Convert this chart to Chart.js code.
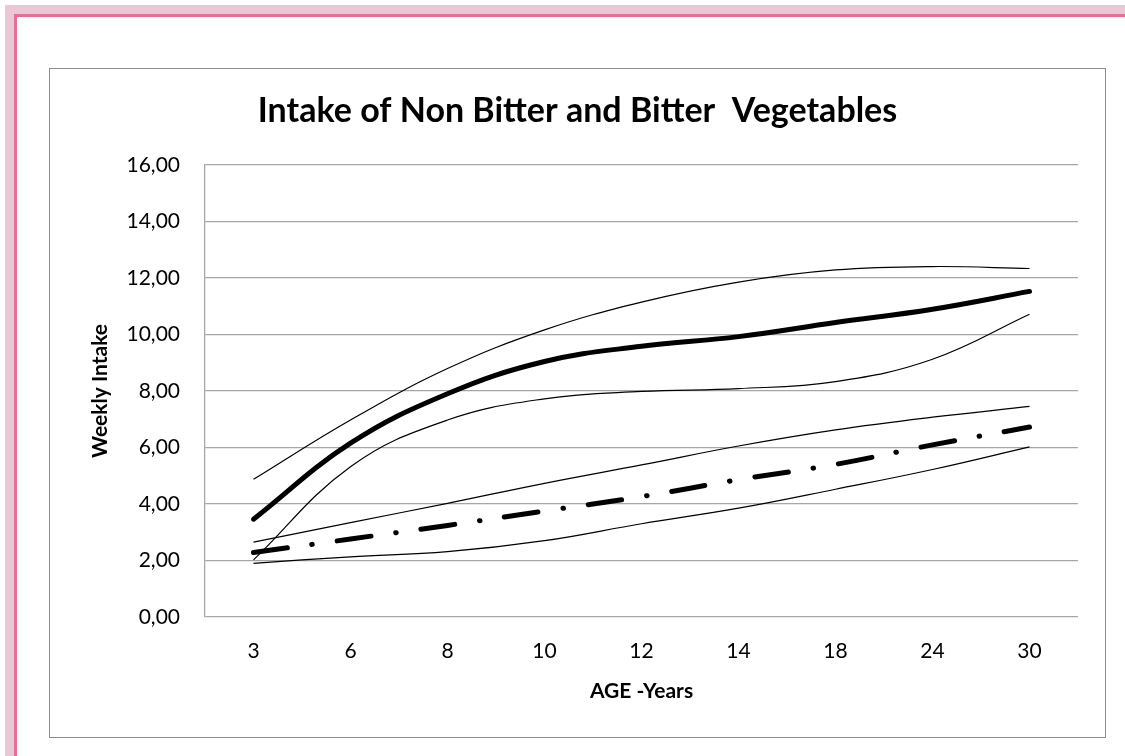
<!DOCTYPE html>
<html>
<head>
    <title>Intake of Non Bitter and Bitter Vegetables</title>
    <script src="https://cdn.jsdelivr.net/npm/chart.js"></script>
    <style>
        body {
            margin: 0;
            width: 1125px;
            height: 756px;
            background: #fff;
            position: relative;
            overflow: hidden;
        }
        .frame-light {
            position: absolute;
            left: 5px; top: 5px; right: 0; bottom: 0;
            border-left: 9px solid #ecc6d4;
            border-top: 9px solid #ecc6d4;
        }
        .frame-dark {
            position: absolute;
            left: 14px; top: 14px; right: 0; bottom: 0;
            border-left: 3px solid #e5708f;
            border-top: 3px solid #e5708f;
        }
        .chart-box {
            position: absolute;
            left: 49px; top: 68px;
            width: 1055px; height: 668px;
            border: 1px solid #8c8c8c;
            background: #fff;
        }
        .chart-box canvas {
            display: block;
        }
    </style>
</head>
<body>
<div class="frame-light"></div>
<div class="frame-dark"></div>
<div class="chart-box">
    <canvas id="intake-chart" width="1055" height="668"></canvas>
</div>
<script>
    // Ages on the x axis
    const ageLabels = ['3', '6', '8', '10', '12', '14', '18', '24', '30'];

    // Non bitter vegetables: upper, mean, lower
    const nonBitterUpper = [4.87, 6.97, 8.79, 10.16, 11.14, 11.85, 12.28, 12.40, 12.33];
    const nonBitterMean  = [3.46, 6.15, 7.90, 9.04, 9.58, 9.92, 10.42, 10.89, 11.52];
    const nonBitterLower = [2.02, 5.32, 6.97, 7.72, 7.98, 8.08, 8.33, 9.12, 10.71];

    // Bitter vegetables: upper, mean, lower
    const bitterUpper = [2.65, 3.34, 4.02, 4.73, 5.38, 6.05, 6.62, 7.07, 7.45];
    const bitterMean  = [2.28, 2.76, 3.24, 3.75, 4.26, 4.86, 5.40, 6.09, 6.72];
    const bitterLower = [1.90, 2.13, 2.31, 2.70, 3.30, 3.85, 4.52, 5.22, 6.02];

    const yTicks = [0, 2, 4, 6, 8, 10, 12, 14, 16];

    function thinLine(data) {
        return {
            data: data,
            borderColor: '#000',
            borderWidth: 1.2,
            pointRadius: 0,
            fill: false,
            tension: 0.4
        };
    }

    const ctx = document.getElementById('intake-chart').getContext('2d');

    new Chart(ctx, {
        type: 'line',
        data: {
            labels: ageLabels,
            datasets: [
                thinLine(nonBitterUpper),
                {
                    data: nonBitterMean,
                    borderColor: '#000',
                    borderWidth: 5,
                    borderCapStyle: 'round',
                    pointRadius: 0,
                    fill: false,
                    tension: 0.4
                },
                thinLine(nonBitterLower),
                thinLine(bitterUpper),
                {
                    data: bitterMean,
                    borderColor: '#000',
                    borderWidth: 5,
                    borderCapStyle: 'round',
                    borderDash: [34, 25, 0.5, 25],
                    pointRadius: 0,
                    fill: false,
                    tension: 0.4
                },
                thinLine(bitterLower)
            ]
        },
        options: {
            responsive: false,
            animation: false,
            devicePixelRatio: 1,
            layout: {
                // equal side padding keeps the title centred in the box
                padding: { left: 27, right: 27, top: 0, bottom: 0 }
            },
            plugins: {
                legend: { display: false },
                tooltip: { enabled: false },
                title: {
                    display: true,
                    text: 'Intake of Non Bitter and Bitter  Vegetables',
                    color: '#000',
                    font: { family: 'Lato', size: 34, weight: 'bold' },
                    padding: { top: 22, bottom: 33 }
                }
            },
            scales: {
                x: {
                    offset: true,
                    grid: { display: false },
                    border: { display: false },
                    ticks: {
                        color: '#000',
                        padding: 14,
                        font: { family: 'Lato', size: 21 }
                    },
                    title: {
                        display: true,
                        text: 'AGE -Years',
                        color: '#000',
                        font: { family: 'Lato', size: 21, weight: 'bold' },
                        padding: { top: 0, bottom: 33 }
                    },
                    afterFit: scale => { scale.height = 120; }
                },
                y: {
                    min: 0,
                    max: 16,
                    afterBuildTicks: scale => {
                        scale.ticks = yTicks.map(v => ({ value: v }));
                    },
                    grid: {
                        color: '#a6a6a6',
                        lineWidth: 1.3,
                        drawTicks: false
                    },
                    border: { color: '#a6a6a6', width: 1.3 },
                    ticks: {
                        color: '#000',
                        padding: 25,
                        font: { family: 'Lato', size: 21 },
                        callback: v => v.toFixed(2).replace('.', ',')
                    },
                    title: {
                        display: true,
                        text: 'Weekly Intake',
                        color: '#000',
                        font: { family: 'Lato', size: 21, weight: 'bold' },
                        padding: { top: 11, bottom: 0 }
                    },
                    afterFit: scale => { scale.width = 128; }
                }
            }
        }
    });
</script>
</body>
</html>
